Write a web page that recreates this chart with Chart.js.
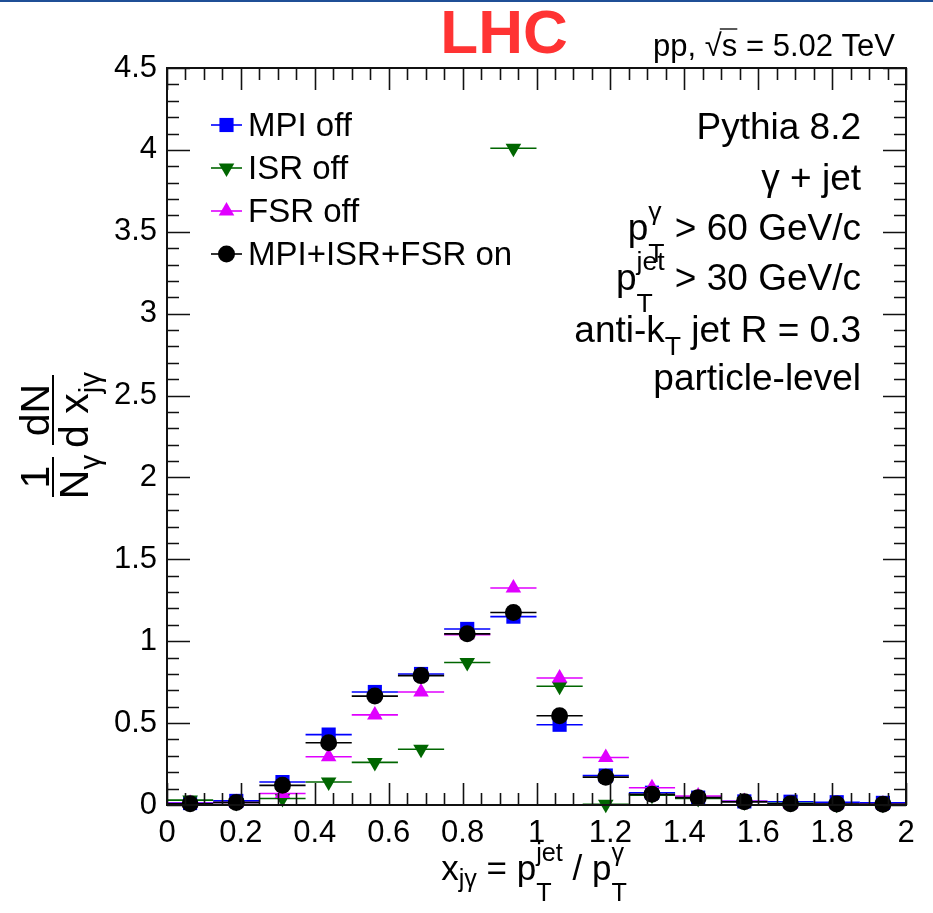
<!DOCTYPE html>
<html>
<head>
<meta charset="utf-8">
<script src="https://cdn.jsdelivr.net/npm/chart.js@4.4.1/dist/chart.umd.min.js"></script>
<style>
    html, body { margin: 0; padding: 0; background: #fff; }
    #wrap { position: relative; width: 933px; height: 913px; }
    #topRule { position: absolute; left: 0; top: 0; width: 933px; height: 2px; background: #1f4f96; }
</style>
</head>
<body>
<div id="wrap">
    <canvas id="xjgChart" width="933" height="913"></canvas>
    <div id="topRule"></div>
</div>
<script>
// x_jgamma bins (centres), width 0.125
const binCenters = [0.0625, 0.1875, 0.3125, 0.4375, 0.5625, 0.6875, 0.8125, 0.9375,
                    1.0625, 1.1875, 1.3125, 1.4375, 1.5625, 1.6875, 1.8125, 1.9375];
const binWidth = 0.125;

// 1/N dN/dx per bin
const mpiOff = [0.012, 0.025, 0.14, 0.43, 0.69, 0.80, 1.075, 1.15, 0.49, 0.18, 0.075, 0.045, 0.022, 0.02, 0.017, 0.013];
const isrOff = [0.03, 0.015, 0.04, 0.14, 0.26, 0.34, 0.87, 4.01, 0.725, 0.005, 0.06, 0.04, 0.02, 0.01, 0.005, 0.004];
const fsrOff = [0.01, 0.015, 0.07, 0.295, 0.55, 0.69, 1.04, 1.325, 0.775, 0.29, 0.105, 0.055, 0.022, 0.006, 0.005, 0.004];
const allOn  = [0.008, 0.015, 0.12, 0.38, 0.665, 0.79, 1.045, 1.175, 0.545, 0.17, 0.065, 0.045, 0.02, 0.008, 0.006, 0.005];

const xTickStep = 0.2, xMinorStep = 0.05;
const yTickStep = 0.5, yMinorStep = 0.1;

const FONT = '"Liberation Sans", Arial, Helvetica, sans-serif';
function font(px, bold) {
    return (bold ? 'bold ' : '') + px + 'px ' + FONT;
}

// tiny TLatex-like writer: parts are strings or {t, sub, sup, subDy}
function drawLatex(ctx, parts, x, y, size, align) {
    const small = size * 0.72;
    const items = [];
    let w = 0;
    for (const p of parts) {
        const o = typeof p === 'string' ? { t: p } : p;
        ctx.font = font(size);
        const mw = o.t ? ctx.measureText(o.t).width : 0;
        ctx.font = font(small);
        const sw = Math.max(o.sub ? ctx.measureText(o.sub).width : 0,
                            o.sup ? ctx.measureText(o.sup).width : 0);
        items.push({ o, mw, sw });
        w += mw + sw;
    }
    let cx = align === 'right' ? x - w : (align === 'center' ? x - w / 2 : x);
    ctx.textAlign = 'left';
    ctx.textBaseline = 'alphabetic';
    for (const it of items) {
        ctx.font = font(size);
        if (it.o.t) ctx.fillText(it.o.t, cx, y);
        cx += it.mw;
        ctx.font = font(small);
        if (it.o.sup) ctx.fillText(it.o.sup, cx, y - size * 0.55);
        if (it.o.sub) ctx.fillText(it.o.sub, cx, y + size * (it.o.subDy !== undefined ? it.o.subDy : 0.6));
        cx += it.sw;
    }
    return w;
}

const series = [
    { label: 'MPI off', data: mpiOff, color: '#0000ff', style: 'rect', radius: 10, rotation: 0, order: 3 },
    { label: 'ISR off', data: isrOff, color: '#006600', style: 'triangle', radius: 9, rotation: 180, order: 2 },
    { label: 'FSR off', data: fsrOff, color: '#e000ff', style: 'triangle', radius: 9, rotation: 0, order: 1 },
    { label: 'MPI+ISR+FSR on', data: allOn, color: '#000000', style: 'circle', radius: 8.5, rotation: 0, order: 0 }
];

// horizontal bars spanning each bin, drawn just before each dataset's markers
const binErrorBars = {
    id: 'binErrorBars',
    beforeDatasetDraw(chart, args) {
        const ctx = chart.ctx;
        const xs = chart.scales.x, ys = chart.scales.y;
        const ds = chart.data.datasets[args.index];
        ctx.save();
        ctx.strokeStyle = ds.borderColor;
        ctx.lineWidth = 1.6;
        ds.data.forEach(pt => {
            const py = ys.getPixelForValue(pt.y);
            ctx.beginPath();
            ctx.moveTo(xs.getPixelForValue(pt.x - binWidth / 2), py);
            ctx.lineTo(xs.getPixelForValue(pt.x + binWidth / 2), py);
            ctx.stroke();
        });
        ctx.restore();
    }
};

// frame with inward ticks on all four sides, titles and labels
const frameAndText = {
    id: 'frameAndText',
    afterDraw(chart) {
        const ctx = chart.ctx;
        const { left, right, top, bottom } = chart.chartArea;
        const xs = chart.scales.x, ys = chart.scales.y;
        ctx.save();
        ctx.strokeStyle = '#111';
        ctx.lineWidth = 1.6;
        ctx.beginPath();
        for (let i = 0; i * xMinorStep <= 2 + 1e-9; i++) {
            const v = i * xMinorStep;
            const px = Math.round(xs.getPixelForValue(v)) + 0.5;
            const len = (i % 4 === 0) ? 22 : 12;
            ctx.moveTo(px, bottom); ctx.lineTo(px, bottom - len);
            ctx.moveTo(px, top); ctx.lineTo(px, top + len);
        }
        for (let i = 0; i * yMinorStep <= 4.5 + 1e-9; i++) {
            const v = i * yMinorStep;
            const py = Math.round(ys.getPixelForValue(v)) + 0.5;
            const len = (i % 5 === 0) ? 23 : 12;
            ctx.moveTo(left, py); ctx.lineTo(left + len, py);
            ctx.moveTo(right, py); ctx.lineTo(right - len, py);
        }
        ctx.stroke();
        ctx.lineWidth = 2;
        ctx.strokeRect(left, top, right - left, bottom - top);

        ctx.fillStyle = '#000';
        // legend
        const rows = [125, 168, 211, 254];
        series.forEach((s, i) => {
            const y = rows[i];
            ctx.strokeStyle = s.color;
            ctx.lineWidth = 1.6;
            ctx.beginPath();
            ctx.moveTo(211, y); ctx.lineTo(242, y);
            ctx.stroke();
            ctx.fillStyle = s.color;
            Chart.helpers.drawPoint(ctx, { pointStyle: s.style, radius: s.radius, rotation: s.rotation, borderWidth: 0 }, 226.5, y);
            ctx.fillStyle = '#000';
            ctx.font = font(33);
            ctx.textAlign = 'left';
            ctx.textBaseline = 'alphabetic';
            ctx.fillText(s.label, 248, y + 11);
        });

        // generator / selection block
        const rx = 861;
        drawLatex(ctx, ['Pythia 8.2'], rx, 139, 37, 'right');
        drawLatex(ctx, ['\u03b3 + jet'], rx, 190, 37, 'right');
        drawLatex(ctx, [{ t: 'p', sup: '\u03b3', sub: 'T' }, ' > 60 GeV/c'], rx, 240, 37, 'right');
        drawLatex(ctx, [{ t: 'p', sup: 'jet', sub: 'T' }, ' > 30 GeV/c'], rx, 290, 37, 'right');
        drawLatex(ctx, [{ t: 'anti-k', sub: 'T', subDy: 0.36 }, ' jet R = 0.3'], rx, 342, 37, 'right');
        drawLatex(ctx, ['particle-level'], rx, 390, 37, 'right');

        // header
        ctx.fillStyle = '#ff3333';
        ctx.font = font(62, true);
        ctx.textAlign = 'center';
        ctx.fillText('LHC', 504, 53);

        ctx.fillStyle = '#000';
        ctx.textAlign = 'left';
        ctx.font = font(31);
        const parts = ['pp, ', '\u221a', 's', ' = 5.02 TeV'];
        const widths = parts.map(t => ctx.measureText(t).width);
        let hx = 895 - widths.reduce((a, b) => a + b, 0);
        parts.forEach((t, i) => {
            ctx.fillText(t, hx, 56);
            if (t === 's') {
                ctx.strokeStyle = '#000';
                ctx.lineWidth = 1.3;
                ctx.beginPath();
                ctx.moveTo(hx - 2, 29); ctx.lineTo(hx + widths[i], 29);
                ctx.stroke();
            }
            hx += widths[i];
        });

        // x axis title
        drawLatex(ctx, [{ t: 'x', sub: 'j\u03b3', subDy: 0.2 }, ' = ', { t: 'p', sup: 'jet', sub: 'T' }, ' / ', { t: 'p', sup: '\u03b3', sub: 'T' }],
                  534, 880, 35, 'center');

        // y axis title, two stacked fractions, rotated
        ctx.translate(53, 435);
        ctx.rotate(-Math.PI / 2);
        ctx.fillRect(-62, -1, 40, 2);
        ctx.fillRect(-10, -1, 70, 2);
        drawLatex(ctx, ['1'], -42, -4, 41, 'center');
        drawLatex(ctx, [{ t: 'N', sub: '\u03b3', subDy: 0.3 }], -42, 35, 41, 'center');
        drawLatex(ctx, ['dN'], 25, -4, 41, 'center');
        drawLatex(ctx, [{ t: 'd x', sub: 'j\u03b3', subDy: 0.3 }], 25, 35, 41, 'center');
        ctx.restore();
    }
};

function initXjgChart() {
    const ctx = document.getElementById('xjgChart').getContext('2d');
    const datasets = series.map(s => ({
        label: s.label,
        data: binCenters.map((x, i) => ({ x: x, y: s.data[i] })),
        borderColor: s.color,
        backgroundColor: s.color,
        pointStyle: s.style,
        pointRadius: s.radius,
        pointRotation: s.rotation,
        pointBorderWidth: 0,
        showLine: false,
        clip: false,
        order: s.order
    }));

    new Chart(ctx, {
        type: 'scatter',
        data: { datasets: datasets },
        options: {
            responsive: false,
            animation: false,
            events: [],
            layout: { padding: { left: 0, right: 27, top: 68, bottom: 0 } },
            plugins: {
                legend: { display: false },
                tooltip: { enabled: false }
            },
            scales: {
                x: {
                    type: 'linear',
                    min: 0,
                    max: 2,
                    afterFit: scale => { scale.height = 108; },
                    grid: { display: false, drawTicks: false },
                    border: { display: false },
                    ticks: {
                        stepSize: xTickStep,
                        autoSkip: false,
                        maxRotation: 0,
                        padding: 10,
                        color: '#000',
                        font: { family: FONT, size: 31 },
                        callback: v => String(parseFloat(v.toFixed(2)))
                    }
                },
                y: {
                    type: 'linear',
                    min: 0,
                    max: 4.5,
                    afterFit: scale => { scale.width = 167; },
                    grid: { display: false, drawTicks: false },
                    border: { display: false },
                    ticks: {
                        stepSize: yTickStep,
                        autoSkip: false,
                        padding: 10,
                        color: '#000',
                        font: { family: FONT, size: 31 },
                        callback: v => String(parseFloat(v.toFixed(2)))
                    }
                }
            }
        },
        plugins: [binErrorBars, frameAndText]
    });
}

document.addEventListener('DOMContentLoaded', () => {
    initXjgChart();
});
</script>
</body>
</html>
